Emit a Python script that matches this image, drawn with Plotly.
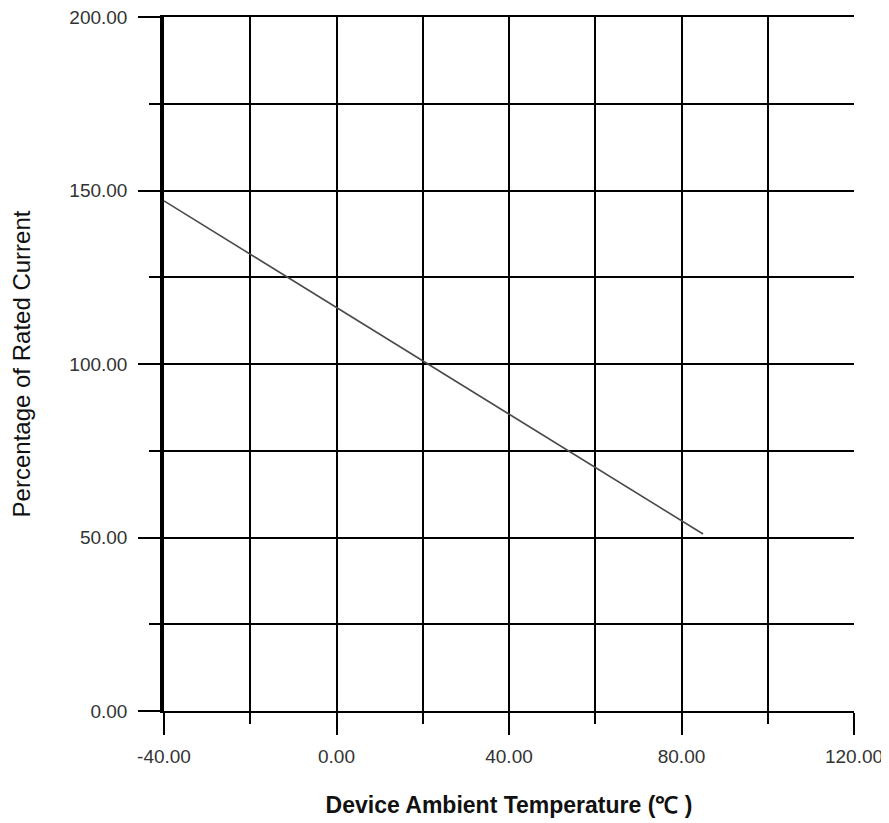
import plotly.graph_objects as go

temperature = [-40, 85]
percent_rated = [147, 51]

x_major = [-40, 0, 40, 80, 120]
x_labels = ["-40.00", "0.00", "40.00", "80.00", "120.00"]
y_major = [0, 50, 100, 150, 200]
y_labels = ["0.00", "50.00", "100.00", "150.00", "200.00"]

fig = go.Figure()
fig.add_trace(go.Scatter(x=temperature, y=percent_rated, mode="lines",
                         line=dict(color="#4a4a4a", width=1.6), showlegend=False))

font = "Liberation Sans, Arial, sans-serif"
fig.update_layout(
    width=889, height=823,
    margin=dict(l=156, r=43, t=9, b=120),
    paper_bgcolor="white", plot_bgcolor="white",
    font=dict(family=font, color="#222222"),
    xaxis=dict(range=[-40, 120], tickmode="array", tickvals=x_major, ticktext=x_labels,
               ticks="outside", ticklen=22, tickwidth=1.5, tickcolor="black",
               showgrid=True, gridcolor="black", gridwidth=1.5,
               minor=dict(dtick=20, tick0=-40, ticks="outside", ticklen=11, tickwidth=1.5,
                          tickcolor="black", showgrid=True, gridcolor="black", gridwidth=1.5),
               showline=True, mirror=True, linecolor="black", linewidth=1.5,
               zeroline=False, automargin=False, ticklabeloverflow="allow",
               tickfont=dict(size=19, color="#333333"), ticklabelstandoff=5,
               title=dict(text="<b>Device Ambient Temperature (℃ )</b>",
                          font=dict(size=23, color="#111111"), standoff=31)),
    yaxis=dict(range=[0, 200], tickmode="array", tickvals=y_major, ticktext=y_labels,
               ticks="outside", ticklen=22, tickwidth=1.5, tickcolor="black",
               showgrid=True, gridcolor="black", gridwidth=1.5,
               minor=dict(dtick=25, tick0=0, ticks="outside", ticklen=11, tickwidth=1.5,
                          tickcolor="black", showgrid=True, gridcolor="black", gridwidth=1.5),
               showline=True, linecolor="black", linewidth=3.5,
               zeroline=False, automargin=False, ticklabeloverflow="allow",
               tickfont=dict(size=19, color="#333333"), ticklabelstandoff=7,
               title=dict(text="Percentage of Rated Current",
                          font=dict(size=24, color="#111111"), standoff=33)),
)
fig.write_html("out.html")
